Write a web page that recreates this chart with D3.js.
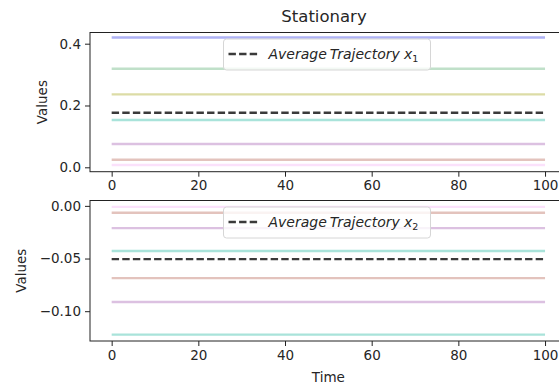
<!DOCTYPE html>
<html>
<head>
<meta charset="utf-8">
<script src="https://cdn.jsdelivr.net/npm/d3@7"></script>
<style>
  body { margin: 0; background: #fff; }
  svg { display: block; font-family: "DejaVu Sans", sans-serif; }
  .tick text { fill: #262626; }
</style>
</head>
<body>
<svg id="chart" width="559" height="385"></svg>
<script>
// values
const timeSpan = [0, 100];
const xTicks = [0, 20, 40, 60, 80, 100];

const x1Values = [0.4201, 0.319, 0.236, 0.153, 0.0754, 0.0246, 0.0074];
const x1Colors = ["#aeb2f4", "#c0e0c9", "#dcdca6", "#a9e3da", "#dcc1e1", "#e3c3bd", "#fbe1fb"];
const x1Ticks = [0.0, 0.2, 0.4];

const x2Values = [-0.001, -0.0066, -0.0211, -0.0429, -0.0686, -0.0913, -0.1222];
const x2Colors = ["#fbe1fb", "#e3c3bd", "#dcc1e1", "#a9e3da", "#e3c3bd", "#dcc1e1", "#a9e3da"];
const x2Ticks = [-0.10, -0.05, 0.00];

const svg = d3.select("#chart");

const x = d3.scaleLinear().domain([-5, 105]).range([90, 566.7]);

const panels = [
    { values: x1Values, colors: x1Colors, ticks: x1Ticks, fmt: d3.format(".1f"),
      ylim: [-0.0142, 0.4362], top: 32.5, bottom: 171.7, sub: "1", labelX: 42, legendY: 39 },
    { values: x2Values, colors: x2Colors, ticks: x2Ticks, fmt: v => d3.format(".2f")(v).replace("-", "\u2212"),
      ylim: [-0.1283, 0.0051], top: 200.5, bottom: 341, sub: "2", labelX: 21, legendY: 207 }
];

panels.forEach((p, pi) => {
    const y = d3.scaleLinear().domain(p.ylim).range([p.bottom, p.top]);
    const g = svg.append("g");

    // trajectories
    p.values.forEach((v, i) => {
        g.append("line")
            .attr("x1", x(timeSpan[0])).attr("x2", x(timeSpan[1]))
            .attr("y1", y(v)).attr("y2", y(v))
            .attr("stroke", p.colors[i])
            .attr("stroke-width", 2.4);
    });

    const avg = d3.mean(p.values);
    g.append("line")
        .attr("x1", x(timeSpan[0])).attr("x2", x(timeSpan[1]))
        .attr("y1", y(avg)).attr("y2", y(avg))
        .attr("stroke", "#3a3a3a")
        .attr("stroke-width", 2.3)
        .attr("stroke-dasharray", "7.4,3.2");

    // frame
    g.append("rect")
        .attr("x", x.range()[0]).attr("y", p.top)
        .attr("width", x.range()[1] - x.range()[0]).attr("height", p.bottom - p.top)
        .attr("fill", "none").attr("stroke", "#222").attr("stroke-width", 1);

    const yAxis = g.append("g")
        .attr("transform", `translate(${x.range()[0]},0)`)
        .call(d3.axisLeft(y).tickValues(p.ticks).tickFormat(p.fmt).tickSize(5).tickPadding(4));
    const xAxis = g.append("g")
        .attr("transform", `translate(0,${p.bottom})`)
        .call(d3.axisBottom(x).tickValues(xTicks).tickSize(5).tickPadding(4));
    [yAxis, xAxis].forEach(a => {
        a.select(".domain").remove();
        a.selectAll(".tick line").attr("stroke", "#222");
        a.selectAll(".tick text").style("font-size", "13.5px").style("font-family", "DejaVu Sans");
    });

    g.append("text")
        .attr("transform", `translate(${p.labelX},${(p.top + p.bottom) / 2}) rotate(-90)`)
        .attr("text-anchor", "middle").attr("dy", "0.35em")
        .style("font-size", "13.5px").attr("fill", "#262626")
        .text("Values");

    // legend
    const lg = g.append("g").attr("transform", `translate(223.5,${p.legendY})`);
    lg.append("rect")
        .attr("width", 207).attr("height", 31).attr("rx", 3)
        .attr("fill", "white").attr("fill-opacity", 0.8)
        .attr("stroke", "#d6d6d6").attr("stroke-width", 1);
    lg.append("line")
        .attr("x1", 5).attr("x2", 34).attr("y1", 15).attr("y2", 15)
        .attr("stroke", "#3a3a3a").attr("stroke-width", 2.3)
        .attr("stroke-dasharray", "7.4,3.2");
    const t = lg.append("text")
        .attr("x", 45).attr("y", 20)
        .style("font-size", "14px").style("font-style", "italic")
        .attr("fill", "#262626");
    t.append("tspan").text("Average");
    t.append("tspan").attr("dx", 3).text("Trajectory");
    t.append("tspan").attr("dx", 4).text("x");
    t.append("tspan").attr("dy", 3).style("font-size", "9.5px").style("font-style", "normal").text(p.sub);
});

svg.append("text")
    .attr("x", (90 + 558) / 2).attr("y", 22)
    .attr("text-anchor", "middle")
    .style("font-size", "16.5px").attr("fill", "#262626")
    .text("Stationary");

svg.append("text")
    .attr("x", x(50)).attr("y", 382)
    .attr("text-anchor", "middle")
    .style("font-size", "13.5px").attr("fill", "#262626")
    .text("Time");
</script>
</body>
</html>
